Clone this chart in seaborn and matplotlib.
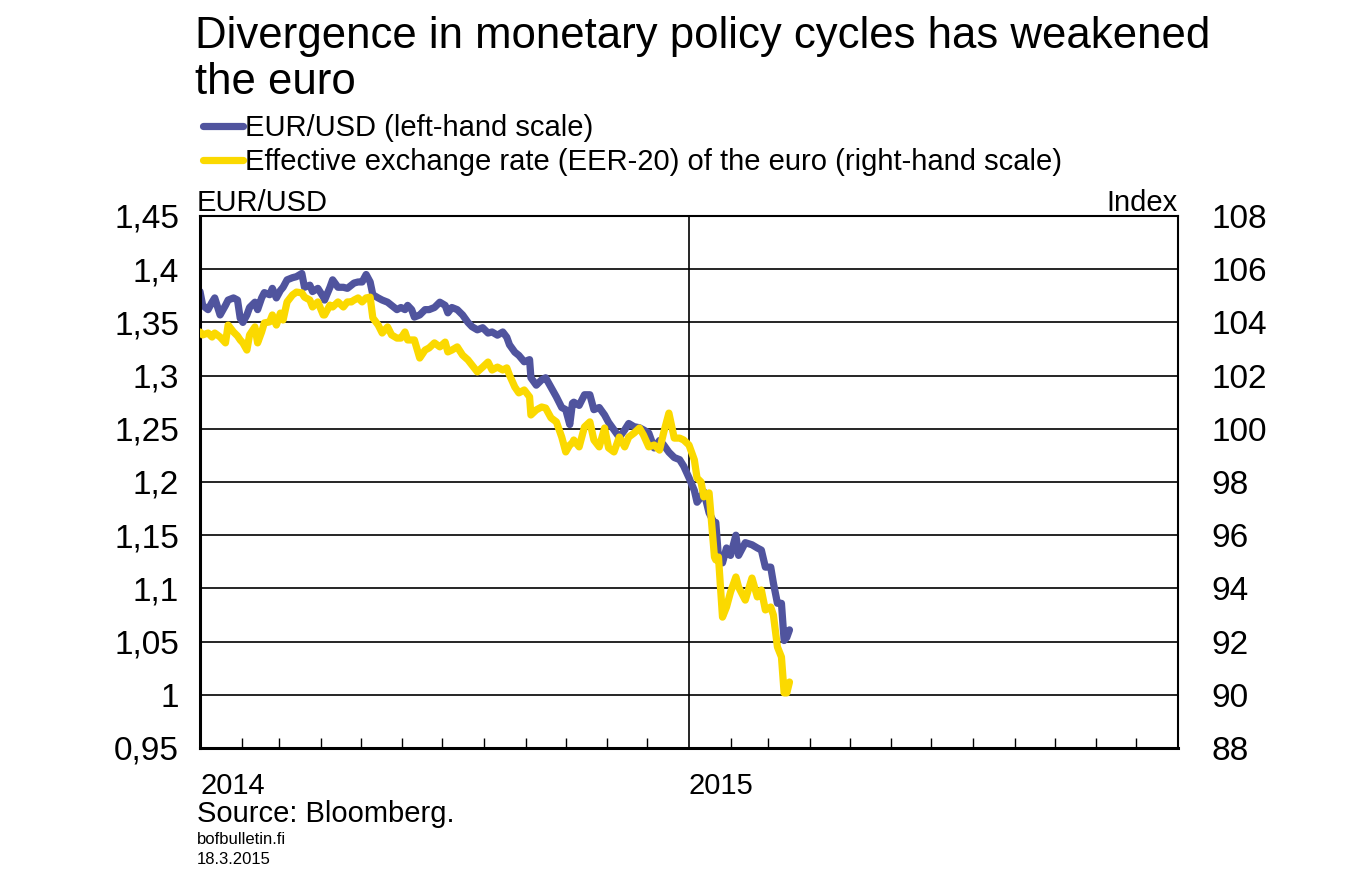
import pandas as pd
import numpy as np
import matplotlib
matplotlib.use("Agg")
import matplotlib.pyplot as plt
import matplotlib.dates as mdates
from matplotlib.ticker import FuncFormatter, FixedLocator
import seaborn as sns

# dates (roughly every 3-4 days)
dates = [
    "2014-01-01", "2014-01-03", "2014-01-07", "2014-01-10", "2014-01-12", "2014-01-16",
    "2014-01-20", "2014-01-22", "2014-01-26", "2014-01-29", "2014-01-31", "2014-02-02",
    "2014-02-05", "2014-02-07", "2014-02-11", "2014-02-13", "2014-02-16", "2014-02-18",
    "2014-02-22", "2014-02-24", "2014-02-27", "2014-03-02", "2014-03-04", "2014-03-07",
    "2014-03-11", "2014-03-14", "2014-03-18", "2014-03-20", "2014-03-24", "2014-03-26",
    "2014-03-30", "2014-04-03", "2014-04-04", "2014-04-08", "2014-04-10", "2014-04-14",
    "2014-04-18", "2014-04-21", "2014-04-24", "2014-04-26", "2014-04-29", "2014-05-02",
    "2014-05-05", "2014-05-08", "2014-05-10", "2014-05-14", "2014-05-17", "2014-05-21",
    "2014-05-24", "2014-05-28", "2014-05-31", "2014-06-03", "2014-06-05", "2014-06-08",
    "2014-06-10", "2014-06-14", "2014-06-18", "2014-06-21", "2014-06-25", "2014-06-29",
    "2014-07-03", "2014-07-05", "2014-07-08", "2014-07-12", "2014-07-16", "2014-07-20",
    "2014-07-23", "2014-07-27", "2014-07-31", "2014-08-04", "2014-08-07", "2014-08-11",
    "2014-08-15", "2014-08-18", "2014-08-20", "2014-08-24", "2014-08-27", "2014-08-31",
    "2014-09-04", "2014-09-05", "2014-09-09", "2014-09-13", "2014-09-16", "2014-09-20",
    "2014-09-24", "2014-09-28", "2014-10-01", "2014-10-04", "2014-10-06", "2014-10-07",
    "2014-10-11", "2014-10-15", "2014-10-19", "2014-10-22", "2014-10-26", "2014-10-30",
    "2014-11-02", "2014-11-06", "2014-11-10", "2014-11-14", "2014-11-17", "2014-11-21",
    "2014-11-25", "2014-11-28", "2014-12-02", "2014-12-06", "2014-12-10", "2014-12-13",
    "2014-12-17", "2014-12-21", "2014-12-25", "2014-12-28", "2015-01-01", "2015-01-05",
    "2015-01-07", "2015-01-10", "2015-01-12", "2015-01-16", "2015-01-20", "2015-01-21",
    "2015-01-23", "2015-01-26", "2015-01-29", "2015-02-01", "2015-02-05", "2015-02-07",
    "2015-02-12", "2015-02-17", "2015-02-21", "2015-02-24", "2015-02-27", "2015-03-03",
    "2015-03-05", "2015-03-08", "2015-03-11", "2015-03-13", "2015-03-15", "2015-03-17",
]

eurusd = [
    1.379, 1.366, 1.362, 1.369, 1.373, 1.357, 1.366, 1.371, 1.373, 1.371, 1.354, 1.350,
    1.357, 1.364, 1.369, 1.362, 1.373, 1.378, 1.376, 1.382, 1.373, 1.380, 1.383, 1.390,
    1.392, 1.393, 1.396, 1.383, 1.385, 1.379, 1.382, 1.374, 1.371, 1.383, 1.390, 1.383,
    1.383, 1.382, 1.385, 1.387, 1.388, 1.388, 1.395, 1.388, 1.376, 1.373, 1.371, 1.369,
    1.366, 1.362, 1.364, 1.362, 1.366, 1.362, 1.355, 1.357, 1.362, 1.362, 1.364, 1.369,
    1.366, 1.359, 1.364, 1.362, 1.357, 1.350, 1.346, 1.343, 1.345, 1.340, 1.341, 1.338,
    1.341, 1.336, 1.329, 1.322, 1.319, 1.313, 1.315, 1.298, 1.291, 1.296, 1.298, 1.289,
    1.280, 1.270, 1.268, 1.254, 1.274, 1.275, 1.272, 1.282, 1.282, 1.268, 1.270, 1.263,
    1.256, 1.249, 1.242, 1.249, 1.255, 1.252, 1.251, 1.249, 1.246, 1.232, 1.239, 1.235,
    1.228, 1.223, 1.221, 1.215, 1.204, 1.192, 1.181, 1.186, 1.191, 1.171, 1.161, 1.162,
    1.129, 1.124, 1.138, 1.131, 1.150, 1.131, 1.143, 1.141, 1.138, 1.136, 1.120, 1.120,
    1.105, 1.086, 1.086, 1.051, 1.054, 1.061,
]

eer20 = [
    103.64, 103.53, 103.60, 103.45, 103.60, 103.45, 103.23, 103.90, 103.64, 103.49, 103.34, 103.23,
    102.96, 103.53, 103.83, 103.23, 103.64, 103.98, 104.02, 104.28, 103.90, 104.35, 104.09, 104.77,
    105.03, 105.14, 105.11, 104.95, 104.84, 104.58, 104.77, 104.28, 104.28, 104.65, 104.58, 104.77,
    104.58, 104.77, 104.77, 104.84, 104.92, 104.77, 104.92, 104.95, 104.17, 103.90, 103.60, 103.83,
    103.53, 103.41, 103.41, 103.64, 103.34, 103.34, 103.34, 102.66, 102.96, 103.04, 103.23, 103.08,
    103.26, 102.89, 102.96, 103.08, 102.77, 102.59, 102.40, 102.14, 102.32, 102.51, 102.21, 102.32,
    102.21, 102.29, 102.02, 101.57, 101.35, 101.46, 101.20, 100.52, 100.71, 100.82, 100.78, 100.41,
    100.26, 99.69, 99.13, 99.39, 99.47, 99.58, 99.32, 100.07, 100.26, 99.58, 99.32, 100.03,
    99.28, 99.13, 99.69, 99.32, 99.69, 99.84, 100.03, 99.77, 99.32, 99.39, 99.20, 99.84,
    100.59, 99.65, 99.65, 99.58, 99.39, 98.83, 98.15, 98.00, 97.44, 97.59, 95.18, 95.07,
    95.18, 92.92, 93.30, 93.86, 94.43, 94.05, 93.56, 94.39, 93.68, 93.94, 93.19, 93.30,
    93.00, 91.80, 91.42, 90.07, 90.07, 90.48,
]

left_ticks = [0.95, 1.0, 1.05, 1.1, 1.15, 1.2, 1.25, 1.3, 1.35, 1.4, 1.45]
right_ticks = [88, 90, 92, 94, 96, 98, 100, 102, 104, 106, 108]
year_labels = {2014: "2014", 2015: "2015"}

blue = "#50549e"
yellow = "#fbd900"

df = pd.DataFrame({"date": pd.to_datetime(dates), "eurusd": eurusd, "eer20": eer20})

sns.set_style("white")
plt.rcParams["font.family"] = ["Liberation Sans", "DejaVu Sans"]
plt.rcParams["text.color"] = "black"
plt.rcParams["xtick.color"] = "black"
plt.rcParams["ytick.color"] = "black"
plt.rcParams["axes.labelcolor"] = "black"

fig = plt.figure(figsize=(13.49, 8.82), dpi=100)
ax = fig.add_axes([200 / 1349, 1 - 748 / 882, 978 / 1349, 532 / 882])
ax2 = ax.twinx()

sns.lineplot(data=df, x="date", y="eurusd", ax=ax, color=blue, linewidth=5.2,
             label="EUR/USD (left-hand scale)", legend=False)
sns.lineplot(data=df, x="date", y="eer20", ax=ax2, color=yellow, linewidth=5.2,
             label="Effective exchange rate (EER-20) of the euro (right-hand scale)", legend=False)

ax.set_xlim(pd.Timestamp("2014-01-01"), pd.Timestamp("2016-01-01"))
ax.set_ylim(0.95, 1.45)
ax2.set_ylim(88, 108)
ax.set_xlabel("")
ax.set_ylabel("")
ax2.set_ylabel("")

fmt = lambda v, p: ("%g" % v).replace(".", ",")
ax.yaxis.set_major_locator(FixedLocator(left_ticks))
ax.yaxis.set_major_formatter(FuncFormatter(fmt))
ax2.yaxis.set_major_locator(FixedLocator(right_ticks))
ax2.yaxis.set_major_formatter(FuncFormatter(fmt))

ax.xaxis.set_major_locator(mdates.YearLocator())
ax.xaxis.set_major_formatter(FuncFormatter(lambda v, p: year_labels.get(mdates.num2date(v).year, "")))
ax.xaxis.set_minor_locator(mdates.MonthLocator())
for lab in ax.get_xticklabels():
    lab.set_horizontalalignment("left")

ax.grid(True, axis="y", color="black", linewidth=1.2)
ax.grid(True, axis="x", which="major", color="black", linewidth=1.2)
ax2.grid(False)

ax.tick_params(axis="y", length=0, pad=15, labelsize=24)
ax2.tick_params(axis="y", length=0, pad=24, labelsize=24)
ax.tick_params(axis="x", which="major", length=0, pad=17, labelsize=21)
ax.tick_params(axis="x", which="minor", bottom=True, direction="in", length=7, width=1, color="black")

for sp in ax.spines.values():
    sp.set_color("black")
for sp in ax2.spines.values():
    sp.set_visible(False)
ax.spines["left"].set_linewidth(2.2)
ax.spines["bottom"].set_linewidth(2.2)
ax.spines["top"].set_linewidth(1.5)
ax.spines["right"].set_linewidth(1.5)

h1, l1 = ax.get_legend_handles_labels()
h2, l2 = ax2.get_legend_handles_labels()
fig.legend(h1 + h2, l1 + l2, loc="upper left", bbox_to_anchor=(203 / 1349, 1 - 114 / 882),
           frameon=False, fontsize=21, handlelength=1.37, handletextpad=0.07,
           labelspacing=0.22, borderaxespad=0, borderpad=0)

fig.text(195 / 1349, 1 - 16 / 882, "Divergence in monetary policy cycles has weakened\nthe euro",
         ha="left", va="top", fontsize=31.5, linespacing=1.16)
fig.text(197 / 1349, 1 - 211 / 882, "EUR/USD", ha="left", va="baseline", fontsize=21)
fig.text(1178 / 1349, 1 - 211 / 882, "Index", ha="right", va="baseline", fontsize=21)
fig.text(197 / 1349, 1 - 822 / 882, "Source: Bloomberg.", ha="left", va="baseline", fontsize=21)
fig.text(197 / 1349, 1 - 844 / 882, "bofbulletin.fi", ha="left", va="baseline", fontsize=12)
fig.text(197 / 1349, 1 - 864 / 882, "18.3.2015", ha="left", va="baseline", fontsize=12)

fig.savefig("out.png", dpi=100)
